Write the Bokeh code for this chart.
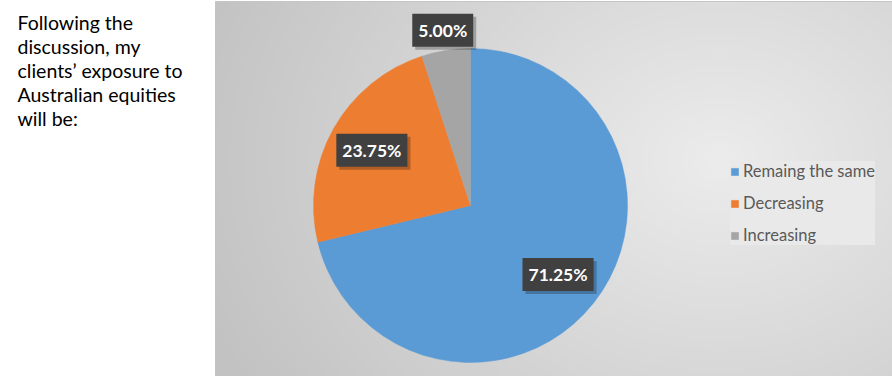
import numpy as np
from bokeh.plotting import figure
from bokeh.models import Range1d, Label, Legend, LegendItem
from bokeh.embed import file_html
from bokeh.resources import INLINE

# ---- data ----
categories = ["Remaing the same", "Decreasing", "Increasing"]
shares = [71.25, 23.75, 5.00]
label_texts = ["71.25%", "23.75%", "5.00%"]
colors = ["#5B9BD5", "#ED7D31", "#A5A5A5"]
side_text = ["Following the", "discussion, my", "clients\u2019 exposure to",
             "Australian equities", "will be:"]

W, H = 892, 376
p = figure(width=W, height=H, x_range=Range1d(0, W), y_range=Range1d(0, H),
           output_backend="svg", toolbar_location=None, min_border=0,
           outline_line_color=None, background_fill_color="white",
           border_fill_color="white")
p.axis.visible = False
p.grid.visible = False

def Y(top):
    return H - top

# ---- chart area background (radial gradient) ----
px0, py0, pw, ph = 215, 1, 677, 375
nx, ny = 170, 94
gx = np.linspace(px0, px0 + pw, nx)
gy = np.linspace(py0, py0 + ph, ny)
GX, GY = np.meshgrid(gx, gy)
d = np.sqrt((GX - 720) ** 2 + ((GY - 160) * 1.25) ** 2)
t = np.clip(d / 560.0, 0, 1)
lv = (236 - (236 - 194) * t).astype(np.uint32)
img = np.empty((ny, nx), dtype=np.uint32)
view = img.view(dtype=np.uint8).reshape((ny, nx, 4))
view[:, :, 0] = lv
view[:, :, 1] = lv
view[:, :, 2] = lv
view[:, :, 3] = 255
img = img[::-1]
p.image_rgba(image=[img], x=px0, y=Y(py0 + ph), dw=pw, dh=ph)
p.quad(left=px0, right=px0 + pw, bottom=Y(py0 + ph), top=Y(py0),
       fill_color=None, line_color="#c4c4c4", line_width=1)

# ---- pie ----
cx, cy, r = 470, Y(205), 157
fr = np.array(shares) / sum(shares)
ends = np.pi / 2 - 2 * np.pi * np.cumsum(fr)
starts = np.concatenate([[np.pi / 2], ends[:-1]])
renderers = []
for i in range(len(categories)):
    rr = p.wedge(x=cx, y=cy, radius=r, start_angle=starts[i], end_angle=ends[i],
                 direction="clock", fill_color=colors[i], line_color=colors[i],
                 line_width=0.5)
    renderers.append(rr)

# ---- data labels ----
radial = [0.71, 0.72, 1.13]
for i, txt in enumerate(label_texts):
    mid = (starts[i] + ends[i]) / 2
    lx = cx + radial[i] * r * np.cos(mid)
    ly = cy + radial[i] * r * np.sin(mid)
    p.add_layout(Label(x=lx, y=ly, x_offset=3, y_offset=-3, text=txt,
                       text_align="center", text_baseline="middle",
                       text_font="Lato", text_font_size="17.5px", text_font_style="bold",
                       text_color="rgba(0,0,0,0)",
                       background_fill_color="black", background_fill_alpha=0.25,
                       padding=6))
    p.add_layout(Label(x=lx, y=ly, text=txt,
                       text_align="center", text_baseline="middle",
                       text_font="Lato", text_font_size="17.5px", text_font_style="bold",
                       text_color="white",
                       background_fill_color="#404040", background_fill_alpha=1.0,
                       padding=6))

# ---- side text ----
for i, line in enumerate(side_text):
    p.add_layout(Label(x=17, y=Y(22 + 24 * i), text=line, text_align="left",
                       text_baseline="middle", text_font="Lato",
                       text_font_size="19.5px", text_color="#000000"))

# ---- legend ----
legend = Legend(items=[LegendItem(label=categories[i], renderers=[renderers[i]])
                       for i in range(len(categories))],
                location=(730, 131), orientation="vertical",
                glyph_width=9, glyph_height=9, label_height=20, label_standoff=4,
                spacing=12, padding=5, margin=0,
                label_text_font="Lato", label_text_font_size="16.5px",
                label_text_color="#595959",
                background_fill_color="#e9e9e9", background_fill_alpha=1.0,
                border_line_color=None)
p.add_layout(legend, "center")

open("out.html", "w").write(file_html(p, INLINE))
